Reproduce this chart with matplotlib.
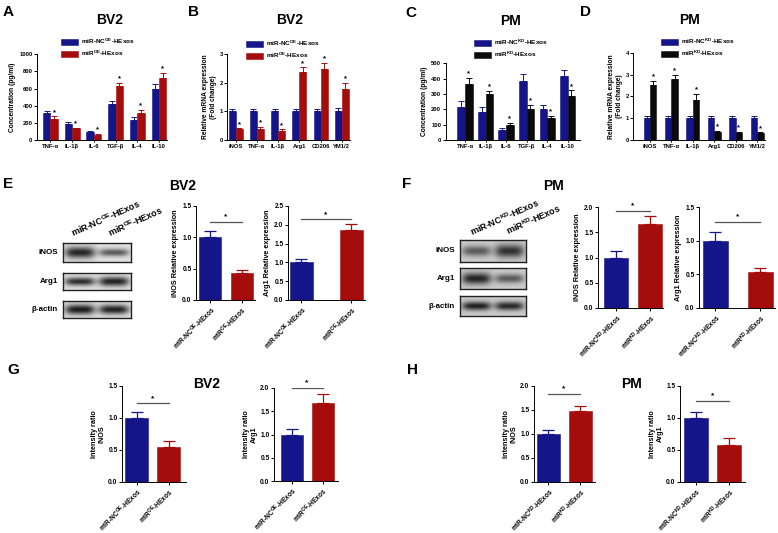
import numpy as np
import matplotlib
matplotlib.use("Agg")
import matplotlib.pyplot as plt

# ---------------- data ----------------
cyto_cats = ["TNF-α", "IL-1β", "IL-6", "TGF-β", "IL-4", "IL-10"]
mrna_cats = ["iNOS", "TNF-α", "IL-1β", "Arg1", "CD206", "YM1/2"]

lab_nc_oe = r"miR-NC$^{\mathrm{OE}}$-HExos"
lab_oe = r"miR$^{\mathrm{OE}}$-HExos"
lab_nc_kd = r"miR-NC$^{\mathrm{KD}}$-HExos"
lab_kd = r"miR$^{\mathrm{KD}}$-HExos"

a_nc = [310, 185, 95, 420, 235, 590]
a_nc_err = [25, 20, 10, 30, 30, 65]
a_oe = [245, 135, 60, 630, 315, 720]
a_oe_err = [30, 10, 15, 40, 40, 65]

b_nc = [1.0, 1.0, 1.0, 1.0, 1.0, 1.0]
b_nc_err = [0.1, 0.1, 0.1, 0.08, 0.1, 0.12]
b_oe = [0.37, 0.40, 0.32, 2.38, 2.50, 1.77]
b_oe_err = [0.04, 0.05, 0.05, 0.16, 0.20, 0.23]

c_nc = [218, 185, 65, 383, 205, 420]
c_nc_err = [35, 30, 10, 50, 25, 35]
c_kd = [365, 302, 100, 205, 145, 290]
c_kd_err = [40, 20, 12, 25, 12, 35]

d_nc = [1.0, 1.0, 1.0, 1.0, 1.0, 1.0]
d_nc_err = [0.08, 0.08, 0.08, 0.08, 0.08, 0.08]
d_kd = [2.50, 2.80, 1.85, 0.38, 0.33, 0.30]
d_kd_err = [0.22, 0.20, 0.25, 0.05, 0.05, 0.05]

e_inos = [1.00, 0.43]
e_inos_err = [0.10, 0.05]
e_arg1 = [1.00, 1.87]
e_arg1_err = [0.10, 0.15]

f_inos = [1.00, 1.67]
f_inos_err = [0.12, 0.15]
f_arg1 = [1.00, 0.54]
f_arg1_err = [0.13, 0.06]

g_inos = [1.00, 0.54]
g_inos_err = [0.10, 0.10]
g_arg1 = [1.00, 1.68]
g_arg1_err = [0.12, 0.20]

h_inos = [1.00, 1.48]
h_inos_err = [0.09, 0.11]
h_arg1 = [1.00, 0.58]
h_arg1_err = [0.10, 0.11]

# blot band intensities (darkness 0..1) and relative thickness
blot_rows = ["iNOS", "Arg1", "β-actin"]
e_band_int = [[0.92, 0.66], [0.88, 0.94], [0.97, 0.94]]
e_band_thk = [[0.30, 0.20], [0.24, 0.28], [0.30, 0.28]]
f_band_int = [[0.62, 0.85], [0.92, 0.62], [0.94, 0.90]]
f_band_thk = [[0.24, 0.30], [0.28, 0.22], [0.22, 0.22]]

# ---------------- style ----------------
plt.rcParams.update({
    "font.family": ["Liberation Sans", "DejaVu Sans"],
    "font.weight": "bold",
    "axes.labelweight": "bold",
    "mathtext.fontset": "custom",
    "mathtext.rm": "Liberation Sans:bold",
    "mathtext.it": "Liberation Sans:bold",
    "mathtext.bf": "Liberation Sans:bold",
    "axes.linewidth": 0.7,
    "xtick.major.width": 0.7,
    "ytick.major.width": 0.7,
    "xtick.major.size": 2,
    "ytick.major.size": 2,
    "xtick.major.pad": 1.2,
    "ytick.major.pad": 1.2,
})

BLUE = "#15158a"
RED = "#a50d0d"
BLACK = "#0a0a0a"
SIGC = "#555555"

W, H = 778, 533
fig = plt.figure(figsize=(W / 100, H / 100), dpi=100)


def px_axes(x0, y_top, x1, y_bot):
    return fig.add_axes([x0 / W, 1 - y_bot / H, (x1 - x0) / W, (y_bot - y_top) / H])


def fig_text(x, y, s, **kw):
    fig.text(x / W, 1 - y / H, s, **kw)


def style_ax(ax, tick_fs):
    ax.spines["top"].set_visible(False)
    ax.spines["right"].set_visible(False)
    ax.tick_params(labelsize=tick_fs)


def grouped(box, cats, s1, e1, s2, e2, c1, c2, top, step, xl, bw, ylabel, labels, leg_xy):
    ax = px_axes(*box)
    n = len(cats)
    x = np.arange(n)
    off = bw / 2
    b1 = ax.bar(x - off, s1, bw, color=c1, edgecolor=c1, linewidth=0.4, zorder=2)
    b2 = ax.bar(x + off, s2, bw, color=c2, edgecolor=c2, linewidth=0.4, zorder=2)
    ax.errorbar(x - off, s1, yerr=[np.zeros(n), e1], fmt="none", ecolor=c1,
                elinewidth=0.7, capsize=2.2, capthick=0.7, zorder=1)
    ax.errorbar(x + off, s2, yerr=[np.zeros(n), e2], fmt="none", ecolor=c2,
                elinewidth=0.7, capsize=2.2, capthick=0.7, zorder=1)
    for xi, v, e in zip(x + off, s2, e2):
        ax.text(xi, v + e + top * 0.005, "*", ha="center", va="bottom", fontsize=5.5)
    ax.set_xlim(*xl)
    ax.set_ylim(0, top)
    ax.set_yticks(np.arange(0, top + step / 2, step))
    ax.set_xticks(x)
    ax.set_xticklabels(cats)
    style_ax(ax, 4.2)
    ax.tick_params(axis="x", length=1.5)
    ax.set_ylabel(ylabel, fontsize=4.8, labelpad=2)
    ax.legend([b1, b2], labels, loc="upper left",
              bbox_to_anchor=(leg_xy[0] / W, 1 - leg_xy[1] / H),
              bbox_transform=fig.transFigure, frameon=False, fontsize=4.6,
              handlelength=2.6, handleheight=1.0, handletextpad=0.6,
              labelspacing=0.45, borderpad=0, borderaxespad=0)
    return ax


def two_bar(axis_x, blue_c, red_c, right_x, y_top_px, y_bot_px, bar_w_px,
            vals, errs, top, step, ylabel, xlabels, sig_y, c2=RED):
    s = red_c - blue_c
    ax = px_axes(axis_x, y_top_px, right_x, y_bot_px)
    x = np.arange(2)
    ax.bar(x, vals, bar_w_px / s, color=[BLUE, c2], edgecolor=[BLUE, c2],
           linewidth=0.4, zorder=2)
    for xi, v, e, c in zip(x, vals, errs, [BLUE, c2]):
        ax.errorbar([xi], [v], yerr=[[0], [e]], fmt="none", ecolor=c,
                    elinewidth=0.9, capsize=4.0, capthick=0.9, zorder=1)
    ax.plot([0, 1], [sig_y, sig_y], color=SIGC, lw=0.9)
    ax.text(0.5, sig_y + top * 0.015, "*", ha="center", va="bottom", fontsize=6)
    ax.set_xlim((axis_x - blue_c) / s, (right_x - blue_c) / s)
    ax.set_ylim(0, top)
    ax.set_yticks(np.arange(0, top + step / 2, step))
    ax.set_yticklabels([f"{v:.1f}" for v in np.arange(0, top + step / 2, step)])
    ax.set_xticks(x)
    ax.set_xticklabels(xlabels, rotation=45, ha="right", rotation_mode="anchor",
                       fontsize=4.3)
    style_ax(ax, 4.8)
    ax.set_ylabel(ylabel, fontsize=5.2, labelpad=2, linespacing=1.0)
    return ax


def blot(x0, x1, rows_px, band_int, band_thk, bg, label_x):
    xs = np.linspace(0, 2, 220)
    ys = np.linspace(0, 1, 60)
    X, Y = np.meshgrid(xs, ys)
    for (yt, yb), name, ints, thks in zip(rows_px, blot_rows, band_int, band_thk):
        ax = px_axes(x0, yt, x1, yb)
        dark = np.zeros_like(X)
        for i, (I, t) in enumerate(zip(ints, thks)):
            c = 0.5 + i
            dark += I * np.exp(-((X - c) / 0.44) ** 4) * np.exp(-((Y - 0.5) / t) ** 2)
        img = bg - (bg - 0.08) * np.clip(dark, 0, 1)
        ax.imshow(img, cmap="gray", vmin=0, vmax=1, extent=(0, 2, 0, 1),
                  aspect="auto", origin="lower", interpolation="bilinear")
        ax.set_xticks([])
        ax.set_yticks([])
        for sp in ax.spines.values():
            sp.set_linewidth(1.0)
            sp.set_color("#222222")
        fig_text(label_x, (yt + yb) / 2, name, ha="right", va="center", fontsize=5.8)


# ---------------- panel letters & titles ----------------
for let, x, y in [("A", 3, 12), ("B", 188, 12), ("C", 405, 13), ("D", 580, 12),
                  ("E", 3, 184), ("F", 402, 184), ("G", 7, 370), ("H", 407, 370)]:
    fig_text(x, y, let, ha="left", va="center", fontsize=11)

for t, x, y in [("BV2", 110, 20), ("BV2", 290, 20), ("PM", 510, 21), ("PM", 690, 20),
                ("BV2", 183, 186), ("PM", 553, 186), ("BV2", 207, 384), ("PM", 632, 384)]:
    fig_text(x, y, t, ha="center", va="center", fontsize=10)

# ---------------- A-D ----------------
grouped((37, 54.3, 167, 140), cyto_cats, a_nc, a_nc_err, a_oe, a_oe_err, BLUE, RED,
        1000, 200, (-0.62, 5.37), 0.34, "Concentration (pg/ml)", [lab_nc_oe, lab_oe], (61, 37))
grouped((227.3, 54.3, 350, 140), mrna_cats, b_nc, b_nc_err, b_oe, b_oe_err, BLUE, RED,
        3, 1, (-0.40, 5.39), 0.33, "Relative mRNA expression\n(Fold change)",
        [lab_nc_oe, lab_oe], (246, 39))
grouped((445.7, 63.3, 580, 140), cyto_cats, c_nc, c_nc_err, c_kd, c_kd_err, BLUE, BLACK,
        500, 100, (-0.94, 5.6), 0.37, "Concentration (pg/ml)", [lab_nc_kd, lab_kd], (474, 38))
grouped((633.3, 52.7, 765, 140), mrna_cats, d_nc, d_nc_err, d_kd, d_kd_err, BLUE, BLACK,
        4, 1, (-0.78, 5.37), 0.30, "Relative mRNA expression\n(Fold change)",
        [lab_nc_kd, lab_kd], (661, 37))

# ---------------- E ----------------
blot(63, 131, [(243, 262), (273, 290), (301, 318)], e_band_int, e_band_thk, 0.88, 58)
fig_text(73, 237, lab_nc_oe, rotation=24, rotation_mode="anchor", ha="left", va="baseline", fontsize=6.5)
fig_text(110, 237, lab_oe, rotation=24, rotation_mode="anchor", ha="left", va="baseline", fontsize=6.5)

two_bar(196, 210, 241.5, 255, 206, 300, 22, e_inos, e_inos_err, 1.5, 0.5,
        "iNOS Relative expression", [lab_nc_oe, lab_oe], 1.25)
two_bar(288, 301, 351, 365, 206, 300, 23, e_arg1, e_arg1_err, 2.5, 0.5,
        "Arg1 Relative expression", [lab_nc_oe, lab_oe], 2.15)

# ---------------- F ----------------
blot(460, 526, [(240, 262), (268, 289), (296, 316)], f_band_int, f_band_thk, 0.80, 455)
fig_text(472, 236, lab_nc_kd, rotation=24, rotation_mode="anchor", ha="left", va="baseline", fontsize=6.5)
fig_text(508, 235, lab_kd, rotation=24, rotation_mode="anchor", ha="left", va="baseline", fontsize=6.5)

two_bar(598, 616, 650, 663, 207, 308, 24, f_inos, f_inos_err, 2.0, 0.5,
        "iNOS Relative expression", [lab_nc_kd, lab_kd], 1.92)
two_bar(699, 715, 760, 775, 207, 308, 25, f_arg1, f_arg1_err, 1.5, 0.5,
        "Arg1 Relative expression", [lab_nc_kd, lab_kd], 1.28)

# ---------------- G ----------------
two_bar(122, 136.5, 168.5, 186, 386, 482, 23, g_inos, g_inos_err, 1.5, 0.5,
        "Intensity ratio\niNOS", [lab_nc_oe, lab_oe], 1.23)
two_bar(274, 291.5, 322.5, 338, 388, 481, 22, g_arg1, g_arg1_err, 2.0, 0.5,
        "Intensity ratio\nArg1", [lab_nc_oe, lab_oe], 2.0)

# ---------------- H ----------------
two_bar(534, 548, 580, 595, 386, 482, 23, h_inos, h_inos_err, 2.0, 0.5,
        "Intensity ratio\niNOS", [lab_nc_kd, lab_kd], 1.83)
two_bar(680, 695.5, 729, 745, 386, 482, 24, h_arg1, h_arg1_err, 1.5, 0.5,
        "Intensity ratio\nArg1", [lab_nc_kd, lab_kd], 1.27)

fig.savefig("out.png", dpi=100)
